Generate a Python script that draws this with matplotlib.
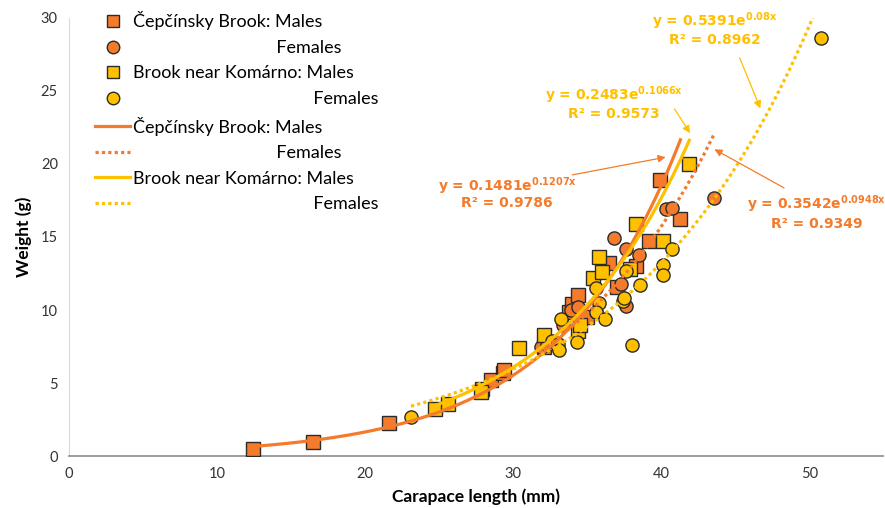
import numpy as np
import matplotlib
matplotlib.use("Agg")
import matplotlib.pyplot as plt
from matplotlib.lines import Line2D

plt.rcParams['font.family'] = ['Lato', 'DejaVu Sans']
plt.rcParams['mathtext.fontset'] = 'dejavusans'

ORANGE = '#F47B2C'
YELLOW = '#FFC000'

# ---- data ----
cep_m_x = [12.4, 16.5, 21.6, 27.9, 28.5, 29.3, 29.4, 32.1, 33.8, 34.0, 34.4, 35.0,
           36.5, 37.0, 38.3, 39.2, 39.9, 41.3]
cep_m_y = [0.5, 1.0, 2.3, 4.6, 5.2, 5.7, 5.9, 7.5, 9.9, 10.4, 11.0, 9.5,
           13.2, 11.6, 13.0, 14.7, 18.9, 16.2]

cep_f_x = [31.9, 32.3, 33.4, 33.9, 34.4, 35.6, 36.8, 37.3, 37.6, 37.6, 38.5, 40.3, 40.7, 43.6]
cep_f_y = [7.5, 7.6, 9.0, 10.0, 10.2, 9.9, 14.9, 11.8, 14.2, 10.3, 13.8, 16.9, 17.0, 17.7]

kom_m_x = [24.7, 25.6, 27.8, 30.4, 32.1, 34.4, 34.5, 35.4, 35.8, 36.0, 37.9, 38.3, 40.1, 41.9]
kom_m_y = [3.2, 3.6, 4.4, 7.4, 8.3, 8.6, 9.0, 12.2, 13.6, 12.6, 12.8, 15.9, 14.7, 20.0]

kom_f_x = [23.1, 32.6, 33.0, 33.1, 33.2, 34.3, 35.6, 35.8, 35.6, 36.2, 37.4, 37.5, 37.6,
           38.0, 38.6, 40.1, 40.1, 40.7, 50.8]
kom_f_y = [2.7, 7.9, 7.7, 7.3, 9.4, 7.8, 11.5, 10.5, 9.9, 9.4, 10.6, 10.8, 12.7,
           7.6, 11.7, 13.1, 12.4, 14.2, 28.6]

# exponential trendline coefficients (a, b) and R^2, as displayed
fit_a = [0.1481, 0.3542, 0.2483, 0.5391]
fit_b = [0.1207, 0.0948, 0.1066, 0.08]
fit_r2 = ['0.9786', '0.9349', '0.9573', '0.8962']
fit_b_txt = ['0.1207x', '0.0948x', '0.1066x', '0.08x']

legend_labels = ['Čepčínsky Brook: Males',
                 '                               Females',
                 'Brook near Komárno: Males',
                 '                                       Females']

fig = plt.figure(figsize=(8.85, 5.08), dpi=100)
ax = fig.add_axes([0.078, 0.102, 0.92, 0.863])

series = [(cep_m_x, cep_m_y, 's', ORANGE),
          (cep_f_x, cep_f_y, 'o', ORANGE),
          (kom_m_x, kom_m_y, 's', YELLOW),
          (kom_f_x, kom_f_y, 'o', YELLOW)]

for xs, ys, mk, col in series:
    ax.plot(xs, ys, linestyle='none', marker=mk, markersize=10 if mk == 's' else 9.5,
            markerfacecolor=col, markeredgecolor='#2b2b2b', markeredgewidth=1.0, zorder=3)

styles = ['-', (0, (1, 1)), '-', (0, (1, 1))]
cols = [ORANGE, ORANGE, YELLOW, YELLOW]
for i, (xs, ys, mk, col) in enumerate(series):
    xx = np.linspace(min(xs), max(xs), 300)
    yy = fit_a[i] * np.exp(fit_b[i] * xx)
    ax.plot(xx, yy, color=cols[i], lw=2.3, linestyle=styles[i], zorder=4)

ax.set_xlim(0, 55)
ax.set_ylim(0, 30)
ax.set_xticks([0, 10, 20, 30, 40, 50])
ax.set_yticks([0, 5, 10, 15, 20, 25, 30])
ax.tick_params(axis='both', length=0, labelsize=10.5, colors='#333333', pad=8)
for s in ['top', 'right']:
    ax.spines[s].set_visible(False)
ax.spines['bottom'].set_color('#8c8c8c')
ax.spines['bottom'].set_linewidth(1.2)
ax.spines['left'].set_color('#d9d9d9')
ax.spines['left'].set_linewidth(0.8)

ax.set_xlabel('Carapace length (mm)', fontsize=12.5, fontweight='bold', labelpad=5)
ax.set_ylabel('Weight (g)', fontsize=12.5, fontweight='bold', labelpad=6)

# annotations: (text x, y of eq line, y of R2 line, arrow start, arrow end)
ann = [
    (0, 29.6, 18.5, 17.3, (34.0, 19.25), (40.3, 20.46)),
    (1, 50.5, 17.25, 15.9, (48.3, 18.36), (43.6, 21.0)),
    (2, 36.8, 24.7, 23.4, (40.9, 23.77), (41.95, 22.1)),
    (3, 43.6, 29.8, 28.45, (45.3, 27.26), (46.7, 23.8)),
]
for i, tx, ty1, ty2, a0, a1 in ann:
    col = cols[i]
    ax.text(tx, ty1, 'y = %.4fe$^{\\mathbf{%s}}$' % (fit_a[i], fit_b_txt[i]),
            ha='center', va='center', color=col, fontsize=10, fontweight='bold',
            family='DejaVu Sans', zorder=6)
    ax.text(tx, ty2, 'R² = ' + fit_r2[i], ha='center', va='center', color=col,
            fontsize=10, fontweight='bold', family='DejaVu Sans', zorder=6)
    ax.annotate('', xy=a1, xytext=a0,
                arrowprops=dict(arrowstyle='-|>', color=col, lw=0.9,
                                mutation_scale=11, shrinkA=0, shrinkB=0), zorder=6)

handles = [
    Line2D([], [], linestyle='none', marker='s', markersize=9, markerfacecolor=ORANGE,
           markeredgecolor='#2b2b2b'),
    Line2D([], [], linestyle='none', marker='o', markersize=9, markerfacecolor=ORANGE,
           markeredgecolor='#2b2b2b'),
    Line2D([], [], linestyle='none', marker='s', markersize=9, markerfacecolor=YELLOW,
           markeredgecolor='#2b2b2b'),
    Line2D([], [], linestyle='none', marker='o', markersize=9, markerfacecolor=YELLOW,
           markeredgecolor='#2b2b2b'),
    Line2D([], [], color=ORANGE, lw=2.3),
    Line2D([], [], color=ORANGE, lw=2.3, linestyle=(0, (1, 1))),
    Line2D([], [], color=YELLOW, lw=2.3),
    Line2D([], [], color=YELLOW, lw=2.3, linestyle=(0, (1, 1))),
]
labels = legend_labels + legend_labels
leg = fig.legend(handles, labels, loc='upper left', bbox_to_anchor=(0.0995, 0.992),
                 frameon=False, fontsize=13, handlelength=1.95, handletextpad=0.15,
                 labelspacing=0.53, borderaxespad=0)

fig.savefig('out.png', dpi=100)
